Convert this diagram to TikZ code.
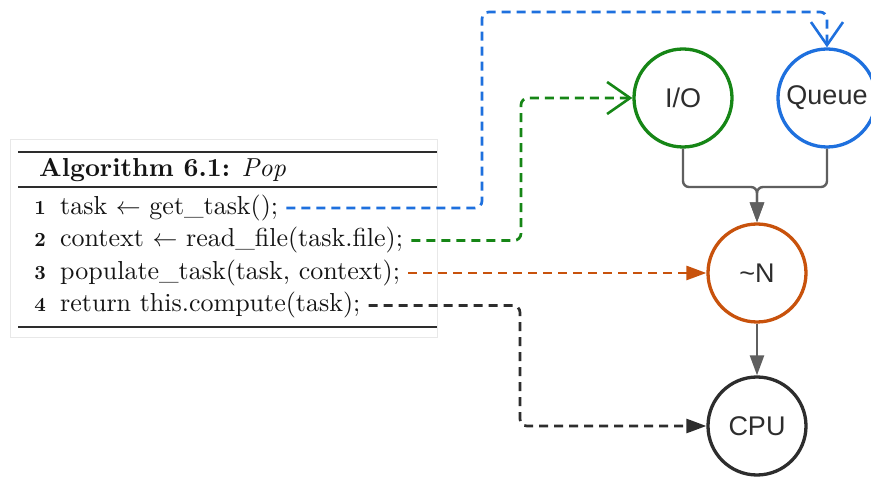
\documentclass[tikz,border=0pt]{standalone}
\usepackage{fontspec}
\setmainfont{lmroman10}[Extension=.otf, UprightFont=*-regular, BoldFont=*-bold,
  ItalicFont=*-italic, BoldItalicFont=*-bolditalic]
\newfontfamily\labelfont{Liberation Sans}
\usetikzlibrary{arrows.meta}
\definecolor{cblue}{RGB}{30,112,222}
\definecolor{cgreen}{RGB}{22,134,22}
\definecolor{corange}{RGB}{200,82,12}
\definecolor{cdark}{RGB}{45,45,45}
\definecolor{cgrey}{RGB}{95,95,95}
\definecolor{ctext}{RGB}{20,20,20}
\definecolor{cframe}{RGB}{232,232,232}
\begin{document}
\begin{tikzpicture}[x=1pt,y=-1pt,
  algline/.style={anchor=base west, inner xsep=8pt, inner ysep=0pt, text=ctext,
    font=\fontsize{26}{31}\selectfont},
  lineno/.style={anchor=base east, inner sep=0pt, text=ctext,
    font=\fontsize{20}{24}\selectfont\bfseries},
  rulestyle/.style={draw=cdark, line width=#1},
  state/.style={circle, draw=#1, line width=3.3pt, minimum size=98pt, inner sep=0pt,
    fill=white, text=cdark, font=\labelfont\fontsize{27}{30}\selectfont},
  flow/.style={draw=cgrey, line width=2.4pt, rounded corners=6pt,
    -{Triangle[length=20pt,width=14pt]}},
  callline/.style={draw=#1, line width=2.7pt, dash pattern=on 9pt off 6pt, rounded corners=7pt},
  filledtip/.style={-{Triangle[length=20pt,width=14pt]}},
  opentip/.style={-{Straight Barb[length=23pt,width=32pt,line width=2.6pt]}}
]
\useasboundingbox (0,0) rectangle (871,478);
\fill[white] (0,0) rectangle (871,478);

% algorithm frame
\draw[cframe, line width=1pt] (10,140) rectangle (437,338);
\draw[rulestyle=2.6pt] (18,152) -- (437,152);
\draw[rulestyle=1.6pt] (18,187) -- (437,187);
\draw[rulestyle=2.6pt] (18,327) -- (437,327);

\node[anchor=base west, inner sep=0pt, text=ctext, font=\fontsize{26}{31}\selectfont]
  (title) at (39,177) {\textbf{Algorithm 6.1:} \textit{Pop}};

\node[lineno] (n1) at (46,214.5) {1};
\node[lineno] (n2) at (46,247) {2};
\node[lineno] (n3) at (46,279.5) {3};
\node[lineno] (n4) at (46,312) {4};

\node[algline] (l1) at (52,214.5) {task $\leftarrow$ get\_task();};
\node[algline] (l2) at (52,247) {context $\leftarrow$ read\_file(task.file);};
\node[algline] (l3) at (52,279.5) {populate\_task(task, context);};
\node[algline] (l4) at (52,312) {return this.compute(task);};

% state nodes
\node[state=cgreen] (io) at (683,98) {I/O};
\node[state=cblue] (q) at (827,98) {Queue};
\node[state=corange] (nn) at (757,273) {\textasciitilde N};
\node[state=cdark] (cpu) at (757,426) {CPU};

% grey flow
\coordinate (j) at (757,187);
\draw[flow] (io.south) |- (j) -- (nn.north);
\draw[flow] (q.south) |- (j) -- (nn.north);
\draw[flow] (nn.south) -- (cpu.north);

% dashed call lines
\coordinate (b1) at (482,12);
\coordinate (g1) at (521,98);
\coordinate (k1) at (520,426);
\draw[callline=cblue, opentip] (l1.east) -| (b1) -| (q.north);
\draw[callline=cgreen, opentip] (l2.east) -| (g1) -- (io.west);
\draw[callline=corange, filledtip] (l3.east) -- (l3.east -| nn.west);
\draw[callline=cdark, filledtip] (l4.east) -| (k1) -- (cpu.west);
\end{tikzpicture}
\end{document}
